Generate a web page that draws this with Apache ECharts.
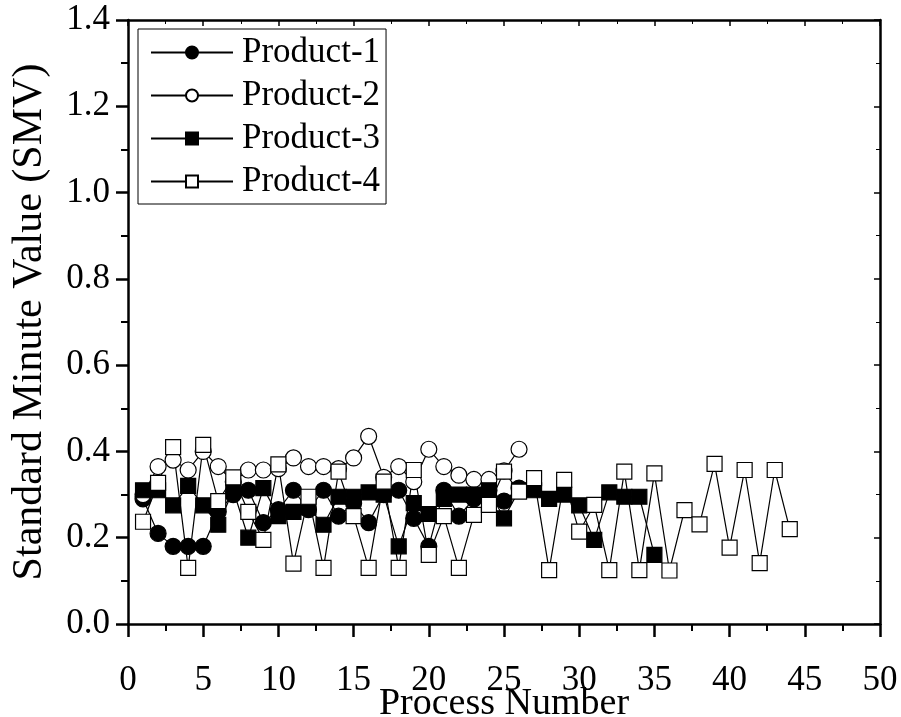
<!DOCTYPE html>
<html>
<head>
<meta charset="utf-8">
<script src="https://cdn.jsdelivr.net/npm/echarts@6/dist/echarts.min.js"></script>
<style>html,body{margin:0;padding:0;background:#fff}#c{width:901px;height:717px}</style>
</head>
<body>
<div id="c"></div>
<script>
const processNumbers = [1,2,3,4,5,6,7,8,9,10,11,12,13,14,15,16,17,18,19,20,21,22,23,24,25,26,27,28,29,30,31,32,33,34,35,36,37,38,39,40,41,42,43,44];
const product1 = [0.29,0.21,0.18,0.18,0.18,0.26,0.30,0.31,0.235,0.265,0.31,0.265,0.31,0.25,0.28,0.235,0.30,0.31,0.245,0.18,0.31,0.25,0.29,0.31,0.285,0.315];
const product2 = [0.30,0.365,0.38,0.357,0.40,0.365,0.33,0.357,0.357,0.36,0.385,0.365,0.365,0.36,0.385,0.435,0.34,0.365,0.33,0.405,0.365,0.345,0.335,0.335,0.355,0.405];
const product3 = [0.31,0.31,0.275,0.32,0.275,0.23,0.31,0.20,0.315,0.25,0.26,0.27,0.23,0.295,0.295,0.305,0.30,0.18,0.28,0.255,0.29,0.30,0.30,0.31,0.245,0.31,0.31,0.29,0.30,0.275,0.195,0.305,0.295,0.295,0.16];
const product4 = [0.237,0.327,0.41,0.13,0.415,0.285,0.34,0.26,0.195,0.37,0.14,0.295,0.13,0.353,0.25,0.13,0.33,0.13,0.357,0.16,0.25,0.13,0.253,0.276,0.353,0.307,0.338,0.125,0.334,0.214,0.276,0.125,0.353,0.125,0.349,0.124,0.264,0.231,0.371,0.177,0.357,0.141,0.357,0.22];
const seriesNames = ['Product-1','Product-2','Product-3','Product-4'];
const xTicks = [0,5,10,15,20,25,30,35,40,45,50];
const yTicks = ['0.0','0.2','0.4','0.6','0.8','1.0','1.2','1.4'];

const FONT = 'Liberation Serif';
function pairs(vals){ return vals.map((v,i)=>[processNumbers[i], v]); }

const chart = echarts.init(document.getElementById('c'));
const axisLine = {show:true, onZero:false, lineStyle:{color:'#000', width:2.5}};
function mkSeries(name, vals, symbol, size, fill){
  return {
    name, type:'line', data: pairs(vals), symbol, symbolSize:size,
    showSymbol:true,
    lineStyle:{color:'#000', width:1.2},
    itemStyle:{color:fill, borderColor:'#000', borderWidth:1.2},
    emphasis:{disabled:true}, animation:false
  };
}
chart.setOption({
  animation:false,
  backgroundColor:'#fff',
  grid:{left:128, right:21, top:20, bottom:93, containLabel:false, outerBoundsMode:'none'},
  legend:{
    orient:'vertical', left:138, top:29,
    data: seriesNames,
    itemWidth:82, itemHeight:15, itemGap:4,
    padding:[4,6,3,12],
    borderColor:'#000', borderWidth:1,
    textStyle:{fontFamily:FONT, fontSize:35, color:'#000', lineHeight:39, padding:[0,0,0,4]}
  },
  xAxis:[{
    type:'value', min:xTicks[0], max:xTicks[xTicks.length-1], interval:5,
    position:'bottom',
    axisLine,
    axisTick:{show:true, inside:false, length:13, lineStyle:{color:'#000', width:2.5}},
    minorTick:{show:true, splitNumber:2, length:7, lineStyle:{color:'#000', width:2}},
    splitLine:{show:false},
    axisLabel:{fontFamily:FONT, fontSize:35, color:'#000', margin:39},
    name:'Process Number', nameLocation:'middle', nameGap:61, nameMoveOverlap:false,
    nameTextStyle:{fontFamily:FONT, fontSize:38, color:'#000'}
  },{
    type:'value', min:0, max:50, interval:5, position:'top',
    axisLine,
    axisTick:{show:true, inside:true, length:6, lineStyle:{color:'#000', width:1.5}},
    minorTick:{show:true, splitNumber:2, length:4, lineStyle:{color:'#000', width:1}},
    axisLabel:{show:false}, splitLine:{show:false}
  }],
  yAxis:[{
    type:'value', min:0, max:1.4, interval:0.2,
    position:'left',
    axisLine,
    axisTick:{show:true, inside:false, length:12, lineStyle:{color:'#000', width:2.5}},
    minorTick:{show:true, splitNumber:2, length:7, lineStyle:{color:'#000', width:2}},
    splitLine:{show:false},
    axisLabel:{fontFamily:FONT, fontSize:35, color:'#000', margin:18,
      formatter:(v)=>{ const i=Math.round(v/0.2); return yTicks[i]!==undefined?yTicks[i]:v.toFixed(1);} },
    name:'Standard Minute Value (SMV)', nameLocation:'middle', nameGap:77, nameMoveOverlap:false,
    nameTextStyle:{fontFamily:FONT, fontSize:42, color:'#000'}
  },{
    type:'value', min:0, max:1.4, interval:0.2, position:'right',
    axisLine,
    axisTick:{show:true, inside:true, length:6, lineStyle:{color:'#000', width:1.5}},
    minorTick:{show:true, splitNumber:2, length:4, lineStyle:{color:'#000', width:1}},
    axisLabel:{show:false}, splitLine:{show:false}
  }],
  series:[
    mkSeries(seriesNames[0], product1, 'circle', 16, '#000'),
    mkSeries(seriesNames[1], product2, 'circle', 16, '#fff'),
    mkSeries(seriesNames[2], product3, 'rect', 15, '#000'),
    mkSeries(seriesNames[3], product4, 'rect', 15, '#fff')
  ]
});
</script>
</body>
</html>
